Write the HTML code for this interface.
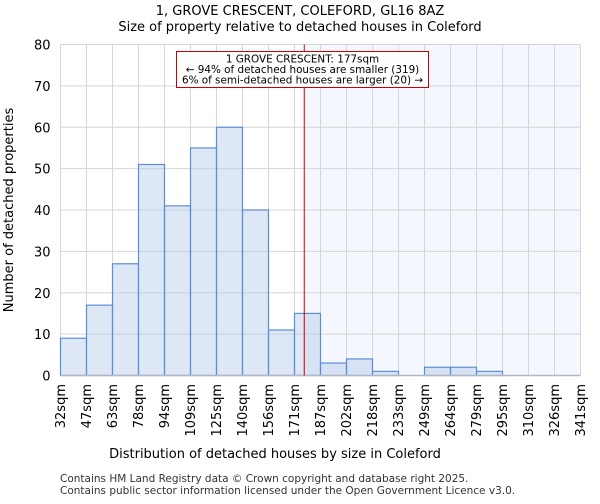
<!DOCTYPE html>
<html><head><meta charset="utf-8"><style>
body{margin:0;background:#fff;font-family:"DejaVu Sans","Liberation Sans",sans-serif;}
</style></head><body>
<svg width="600" height="500" xmlns="http://www.w3.org/2000/svg" font-family="DejaVu Sans, Liberation Sans, sans-serif">
<text x="300" y="15" text-anchor="middle" font-size="13">1, GROVE CRESCENT, COLEFORD, GL16 8AZ</text>
<text x="300" y="31" text-anchor="middle" font-size="13">Size of property relative to detached houses in Coleford</text>
<g id="plot"></g>
<text x="275" y="458" text-anchor="middle" font-size="13">Distribution of detached houses by size in Coleford</text>
<text transform="translate(13,210) rotate(-90)" text-anchor="middle" font-size="13">Number of detached properties</text>
<text x="60" y="482" font-size="10.5" fill="#333">Contains HM Land Registry data © Crown copyright and database right 2025.</text>
<text x="60" y="494" font-size="10.5" fill="#333">Contains public sector information licensed under the Open Government Licence v3.0.</text>
</svg>
<script>
const binLabels=["32sqm","47sqm","63sqm","78sqm","94sqm","109sqm","125sqm","140sqm","156sqm","171sqm","187sqm","202sqm","218sqm","233sqm","249sqm","264sqm","279sqm","295sqm","310sqm","326sqm","341sqm"];
const binEdges=[32,47,63,78,94,109,125,140,156,171,187,202,218,233,249,264,279,295,310,326,341];
const counts=[9,17,27,51,41,55,60,40,11,15,3,4,1,0,2,2,1,0,0,0];
const yTicks=[0,10,20,30,40,50,60,70,80];
const propertySize=177;
const NS="http://www.w3.org/2000/svg";
const X0=60.5,X1=580.5,Y0=375.5,Y1=44.5,YMAX=80;
const nb=counts.length;
function xIdx(i){return X0+(X1-X0)*i/nb;}
function xVal(v){let i=0;while(i<nb-1&&v>binEdges[i+1])i++;return xIdx(i)+(v-binEdges[i])/(binEdges[i+1]-binEdges[i])*(X1-X0)/nb;}
function y(v){return Y0-(Y0-Y1)*v/YMAX;}
const g=document.getElementById('plot');
function mk(t,a,p){const e=document.createElementNS(NS,t);for(const k in a)e.setAttribute(k,a[k]);(p||g).appendChild(e);return e;}
const rx=xVal(propertySize);
let e=mk('rect',{x:rx,y:Y1,width:X1-rx,height:Y0-Y1,fill:'#f4f7fd'});


for(let i=0;i<=nb;i++){e=mk('line',{x1:xIdx(i),x2:xIdx(i),y1:Y1,y2:Y0,stroke:'#d6d6d6','stroke-width':1});

}
yTicks.forEach(t=>{e=mk('line',{x1:X0,x2:X1,y1:y(t),y2:y(t),stroke:'#d6d6d6','stroke-width':1});


e=mk('text',{x:X0-10,y:y(t)+5,'text-anchor':'end','font-size':13});e.textContent=t;

});
counts.forEach((c,i)=>{if(c<=0)return;e=mk('rect',{x:xIdx(i),y:y(c),width:xIdx(i+1)-xIdx(i),height:Y0-y(c),fill:'rgba(180,202,232,0.45)',stroke:'#5b8ed6','stroke-width':1.2});

});
e=mk('line',{x1:X0,x2:X1,y1:Y0,y2:Y0,stroke:'#b0b8c8','stroke-width':1.5});


binLabels.forEach((l,i)=>{const xx=xIdx(i)+4.5;e=mk('text',{transform:`translate(${xx},384) rotate(-90)`,'text-anchor':'end','font-size':13});e.textContent=l;

});
e=mk('line',{x1:rx,x2:rx,y1:Y1,y2:Y0,stroke:'#cc0000','stroke-width':1});


const ag=mk('g',{});


mk('rect',{x:176.5,y:51.5,width:252,height:36,fill:'#fff',stroke:'#cc0000','stroke-width':1},ag);
["1 GROVE CRESCENT: 177sqm","← 94% of detached houses are smaller (319)","6% of semi-detached houses are larger (20) →"].forEach((t,i)=>{const tx=mk('text',{x:302.5,y:62.5+i*10.5,'text-anchor':'middle','font-size':10.4},ag);tx.textContent=t;});
</script>
</body></html>
